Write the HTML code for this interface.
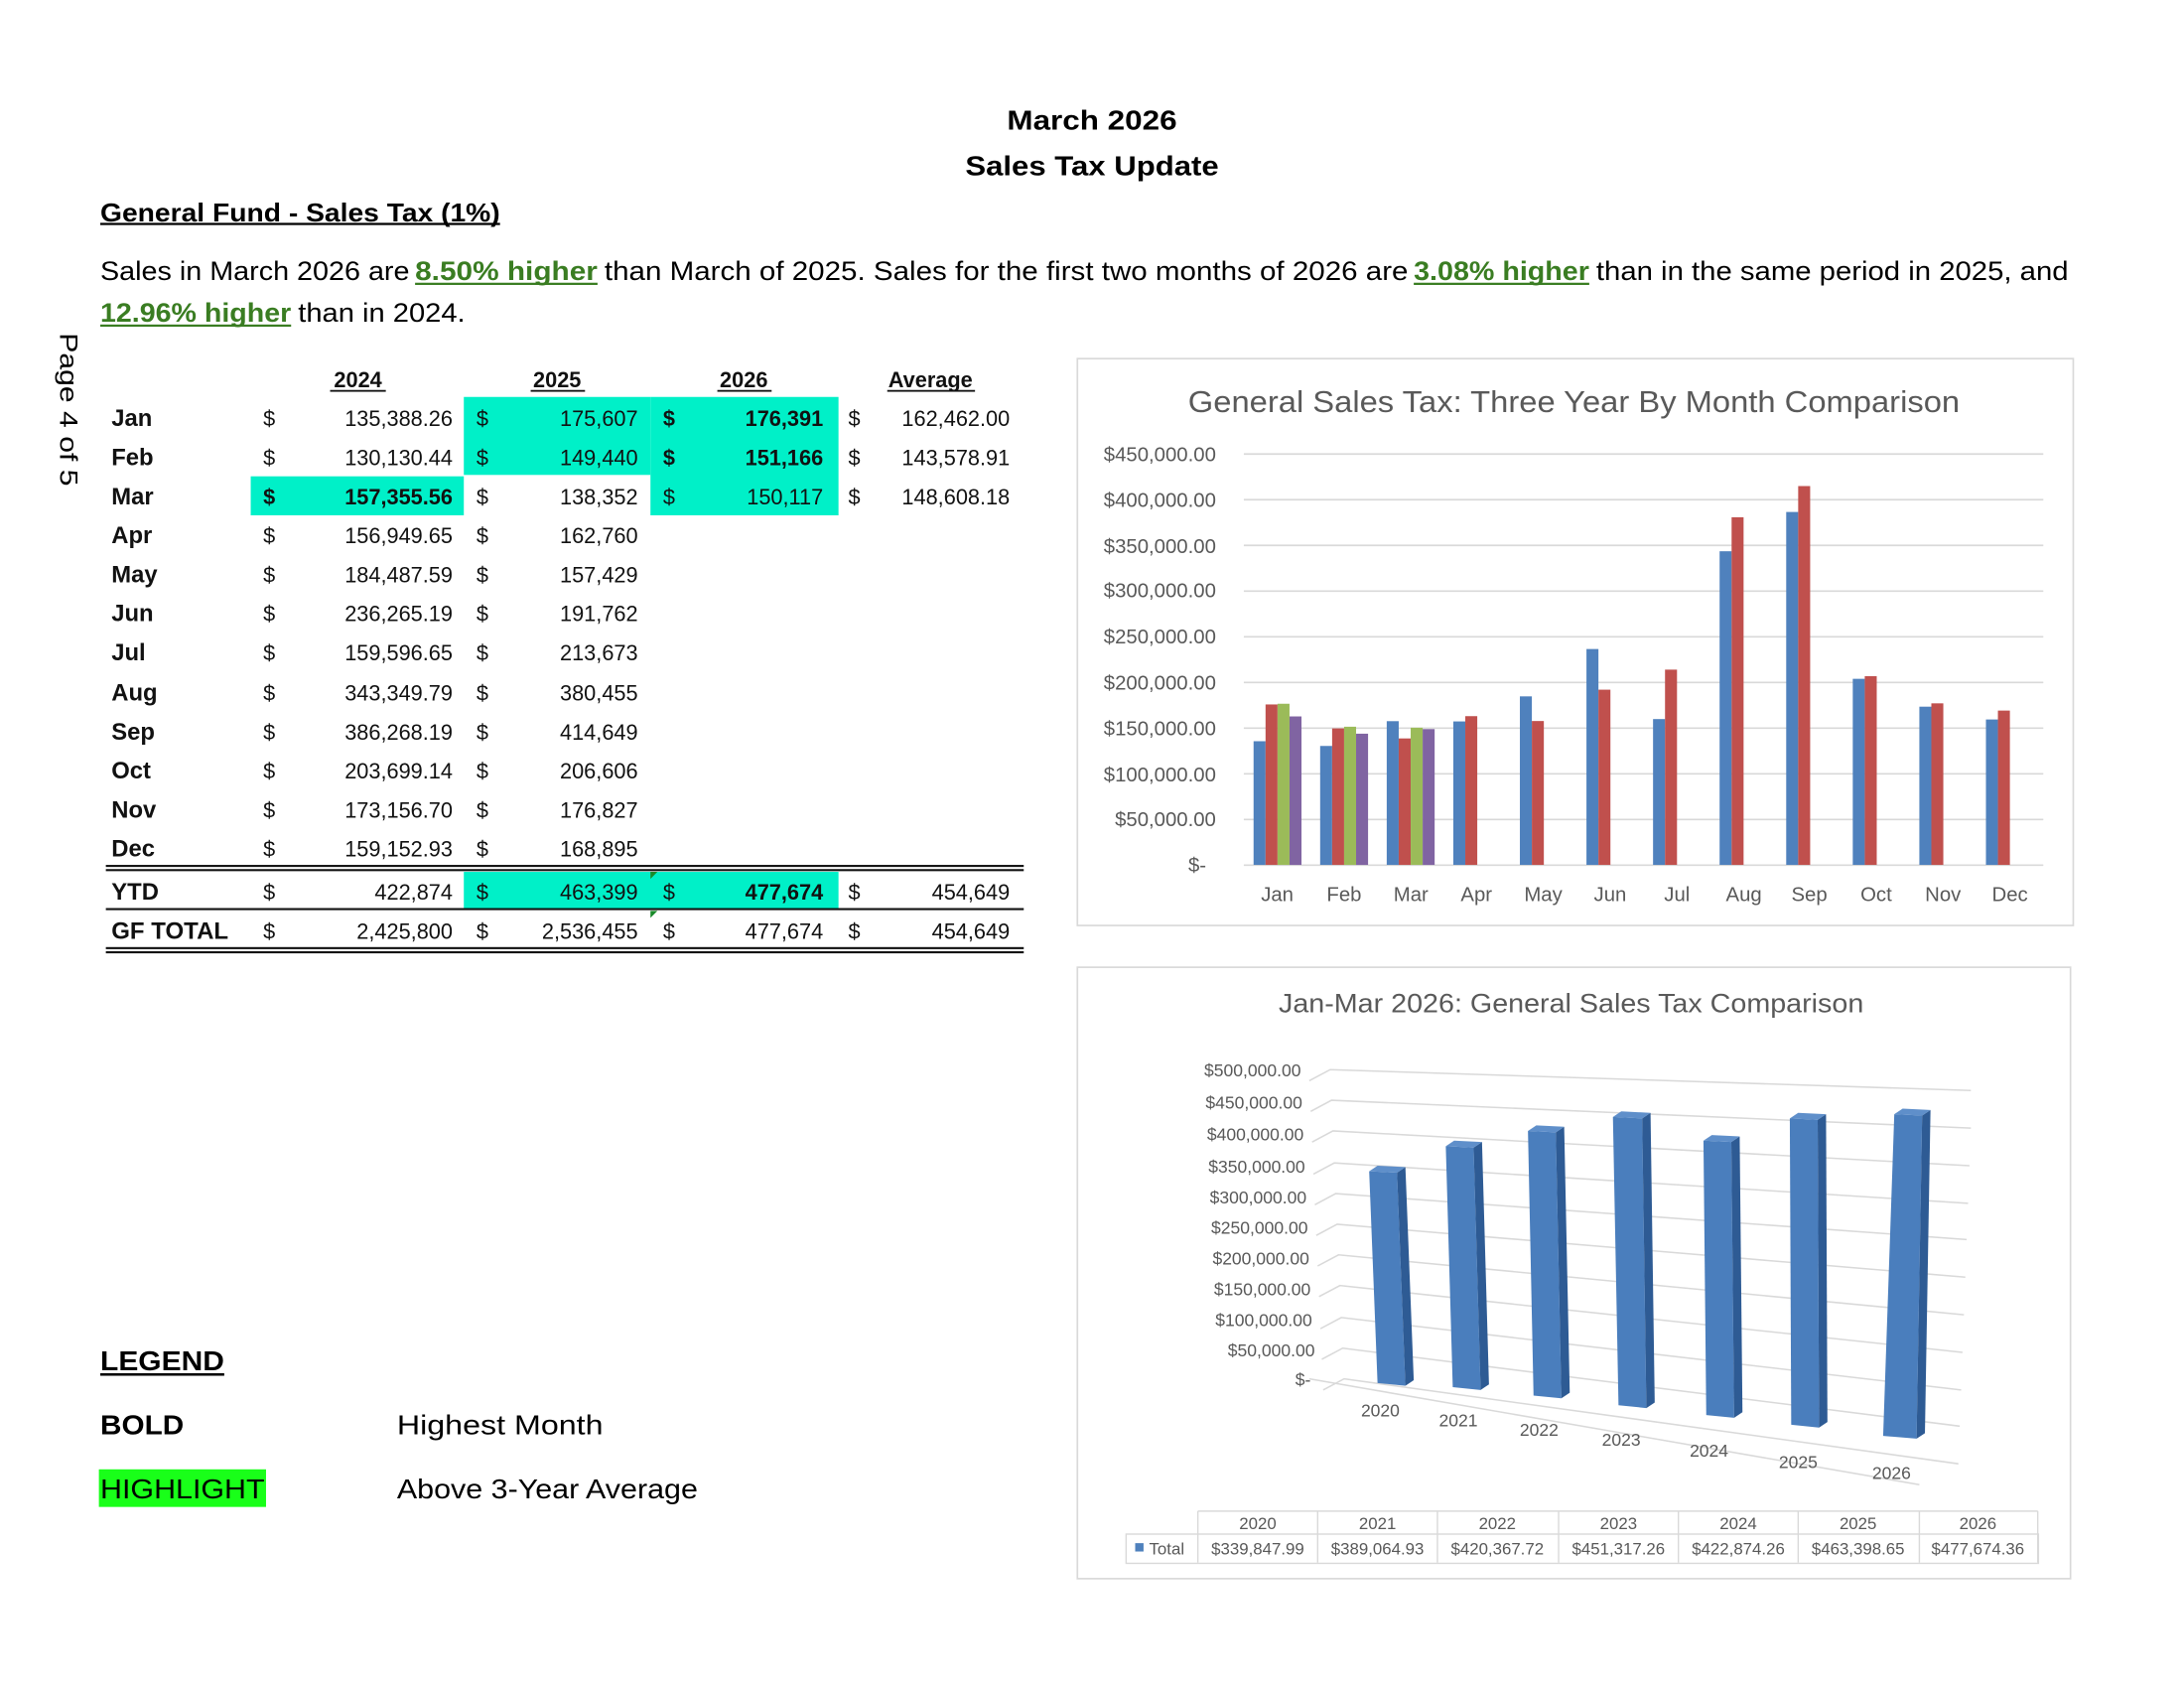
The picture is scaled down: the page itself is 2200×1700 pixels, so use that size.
<!DOCTYPE html>
<html><head><meta charset="utf-8"><style>
html,body{margin:0;padding:0;background:#fff;overflow:hidden;}
svg{display:block;}
text{font-family:"Liberation Sans",sans-serif;}
.t{font-size:15.5px;fill:#111;}
.b{font-weight:bold;}
.m{font-size:17px;font-weight:bold;fill:#111;}
.ax{font-size:14.5px;fill:#595959;}
.ax2{font-size:12.5px;fill:#595959;}
.dt{font-size:12px;fill:#595959;}
</style></head><body>
<svg width="2200" height="1700" viewBox="0 0 1568 1212" preserveAspectRatio="none" xmlns="http://www.w3.org/2000/svg">
<rect width="1568" height="1212" fill="#fff"/>
<!-- header -->
<text x="784" y="93" text-anchor="middle" font-size="20" font-weight="bold" textLength="122" lengthAdjust="spacingAndGlyphs">March 2026</text>
<text x="784" y="126" text-anchor="middle" font-size="20" font-weight="bold" textLength="182" lengthAdjust="spacingAndGlyphs">Sales Tax Update</text>
<text x="72" y="159" font-size="18.5" font-weight="bold" textLength="287" lengthAdjust="spacingAndGlyphs">General Fund - Sales Tax (1%)</text>
<rect x="72" y="160" width="287" height="1.6" fill="#000"/>
<g font-size="19">
<text x="72" y="201" textLength="222" lengthAdjust="spacingAndGlyphs">Sales in March 2026 are</text>
<text x="298" y="201" fill="#3a7d22" font-weight="bold" textLength="131" lengthAdjust="spacingAndGlyphs">8.50%  higher</text>
<rect x="298" y="203" width="131" height="1.6" fill="#3a7d22"/>
<text x="434" y="201" textLength="577" lengthAdjust="spacingAndGlyphs">than March of 2025.  Sales for the first two months of 2026 are</text>
<text x="1015" y="201" fill="#3a7d22" font-weight="bold" textLength="126" lengthAdjust="spacingAndGlyphs">3.08% higher</text>
<rect x="1015" y="203" width="126" height="1.6" fill="#3a7d22"/>
<text x="1146" y="201" textLength="339" lengthAdjust="spacingAndGlyphs">than in the same period in 2025, and</text>
<text x="72" y="231" fill="#3a7d22" font-weight="bold" textLength="137" lengthAdjust="spacingAndGlyphs">12.96% higher</text>
<rect x="72" y="233" width="137" height="1.6" fill="#3a7d22"/>
<text x="214" y="231" textLength="120" lengthAdjust="spacingAndGlyphs">than in 2024.</text>
</g>
<text transform="translate(43,239) rotate(90)" font-size="18" textLength="110" lengthAdjust="spacingAndGlyphs">Page 4 of 5</text>

<!-- table highlights -->
<g fill="#00f0c8">
<rect x="333" y="285" width="134" height="56"/>
<rect x="467" y="285" width="135" height="85"/>
<rect x="180" y="342" width="153" height="28"/>
<rect x="333" y="626" width="269" height="27"/>
</g>
<g class="t b" font-size="15">
<text x="257" y="278" text-anchor="middle">2024</text>
<text x="400" y="278" text-anchor="middle">2025</text>
<text x="534" y="278" text-anchor="middle">2026</text>
<text x="668" y="278" text-anchor="middle">Average</text>
</g>
<g fill="#111"><rect x="237" y="280" width="40" height="1.3"/><rect x="381" y="280" width="39" height="1.3"/><rect x="515" y="280" width="39" height="1.3"/><rect x="637" y="280" width="63" height="1.3"/></g>

<g class="m">
<text x="80" y="306">Jan</text><text x="80" y="334">Feb</text><text x="80" y="362">Mar</text>
<text x="80" y="390">Apr</text><text x="80" y="418">May</text><text x="80" y="446">Jun</text>
<text x="80" y="474">Jul</text><text x="80" y="503">Aug</text><text x="80" y="531">Sep</text>
<text x="80" y="559">Oct</text><text x="80" y="587">Nov</text><text x="80" y="615">Dec</text>
<text x="80" y="646">YTD</text><text x="80" y="674" textLength="84" lengthAdjust="spacingAndGlyphs">GF TOTAL</text>
</g>
<g class="t">
<text x="189" y="306">$</text><text x="189" y="334">$</text><text x="189" y="362" font-weight="bold">$</text>
<text x="189" y="390">$</text><text x="189" y="418">$</text><text x="189" y="446">$</text><text x="189" y="474">$</text>
<text x="189" y="503">$</text><text x="189" y="531">$</text><text x="189" y="559">$</text><text x="189" y="587">$</text><text x="189" y="615">$</text>
<text x="189" y="646">$</text><text x="189" y="674">$</text>
<text x="342" y="306">$</text><text x="342" y="334">$</text><text x="342" y="362">$</text>
<text x="342" y="390">$</text><text x="342" y="418">$</text><text x="342" y="446">$</text><text x="342" y="474">$</text>
<text x="342" y="503">$</text><text x="342" y="531">$</text><text x="342" y="559">$</text><text x="342" y="587">$</text><text x="342" y="615">$</text>
<text x="342" y="646">$</text><text x="342" y="674">$</text>
<text x="476" y="306" font-weight="bold">$</text><text x="476" y="334" font-weight="bold">$</text><text x="476" y="362">$</text>
<text x="476" y="646">$</text><text x="476" y="674">$</text>
<text x="609" y="306">$</text><text x="609" y="334">$</text><text x="609" y="362">$</text>
<text x="609" y="646">$</text><text x="609" y="674">$</text>
</g>
<g class="t" text-anchor="end">
<text x="325" y="306">135,388.26</text><text x="325" y="334">130,130.44</text><text x="325" y="362" font-weight="bold">157,355.56</text>
<text x="325" y="390">156,949.65</text><text x="325" y="418">184,487.59</text><text x="325" y="446">236,265.19</text>
<text x="325" y="474">159,596.65</text><text x="325" y="503">343,349.79</text><text x="325" y="531">386,268.19</text>
<text x="325" y="559">203,699.14</text><text x="325" y="587">173,156.70</text><text x="325" y="615">159,152.93</text>
<text x="325" y="646">422,874</text><text x="325" y="674">2,425,800</text>
<text x="458" y="306">175,607</text><text x="458" y="334">149,440</text><text x="458" y="362">138,352</text>
<text x="458" y="390">162,760</text><text x="458" y="418">157,429</text><text x="458" y="446">191,762</text>
<text x="458" y="474">213,673</text><text x="458" y="503">380,455</text><text x="458" y="531">414,649</text>
<text x="458" y="559">206,606</text><text x="458" y="587">176,827</text><text x="458" y="615">168,895</text>
<text x="458" y="646">463,399</text><text x="458" y="674">2,536,455</text>
<text x="591" y="306" font-weight="bold">176,391</text><text x="591" y="334" font-weight="bold">151,166</text><text x="591" y="362">150,117</text>
<text x="591" y="646" font-weight="bold">477,674</text><text x="591" y="674">477,674</text>
<text x="725" y="306">162,462.00</text><text x="725" y="334">143,578.91</text><text x="725" y="362">148,608.18</text>
<text x="725" y="646">454,649</text><text x="725" y="674">454,649</text>
</g>
<g fill="#111">
<rect x="76" y="621" width="659" height="1.5"/><rect x="76" y="624" width="659" height="1.5"/>
<rect x="76" y="652" width="659" height="1.5"/>
<rect x="76" y="680" width="659" height="1.5"/><rect x="76" y="683" width="659" height="1.5"/>
</g>
<g fill="#1a8a2a"><polygon points="467,626 472,626 467,631"/><polygon points="467,654 472,654 467,659"/></g>

<!-- legend -->
<text x="72" y="984" font-size="20" font-weight="bold" textLength="89" lengthAdjust="spacingAndGlyphs">LEGEND</text>
<rect x="72" y="986" width="89" height="1.8" fill="#000"/>
<text x="72" y="1030" font-size="20" font-weight="bold" textLength="60" lengthAdjust="spacingAndGlyphs">BOLD</text>
<text x="285" y="1030" font-size="20" textLength="148" lengthAdjust="spacingAndGlyphs">Highest Month</text>
<rect x="71" y="1055" width="120" height="27" fill="#19ff19"/>
<text x="72" y="1076" font-size="20" textLength="118" lengthAdjust="spacingAndGlyphs">HIGHLIGHT</text>
<text x="285" y="1076" font-size="20" textLength="216" lengthAdjust="spacingAndGlyphs">Above 3-Year Average</text>

<!-- chart 1 -->
<rect x="773.5" y="257.5" width="715" height="407" fill="#fff" stroke="#d9d9d9" stroke-width="1.2"/>
<text x="1130" y="296" text-anchor="middle" font-size="22" fill="#595959" textLength="554" lengthAdjust="spacingAndGlyphs">General Sales Tax: Three Year By Month Comparison</text>
<g stroke="#d9d9d9" stroke-width="1.2">
<line x1="893" y1="326" x2="1467" y2="326"/><line x1="893" y1="358.8" x2="1467" y2="358.8"/>
<line x1="893" y1="391.6" x2="1467" y2="391.6"/><line x1="893" y1="424.4" x2="1467" y2="424.4"/>
<line x1="893" y1="457.2" x2="1467" y2="457.2"/><line x1="893" y1="490" x2="1467" y2="490"/>
<line x1="893" y1="522.8" x2="1467" y2="522.8"/><line x1="893" y1="555.6" x2="1467" y2="555.6"/>
<line x1="893" y1="588.4" x2="1467" y2="588.4"/><line x1="893" y1="621.2" x2="1467" y2="621.2"/>
</g>
<g class="ax" text-anchor="end">
<text x="873" y="331">$450,000.00</text><text x="873" y="364">$400,000.00</text><text x="873" y="397">$350,000.00</text>
<text x="873" y="429">$300,000.00</text><text x="873" y="462">$250,000.00</text><text x="873" y="495">$200,000.00</text>
<text x="873" y="528">$150,000.00</text><text x="873" y="561">$100,000.00</text><text x="873" y="593">$50,000.00</text>
<text x="866" y="626">$-</text>
</g>
<g class="ax" text-anchor="middle">
<text x="917" y="647">Jan</text><text x="965" y="647">Feb</text><text x="1013" y="647">Mar</text><text x="1060" y="647">Apr</text>
<text x="1108" y="647">May</text><text x="1156" y="647">Jun</text><text x="1204" y="647">Jul</text><text x="1252" y="647">Aug</text>
<text x="1299" y="647">Sep</text><text x="1347" y="647">Oct</text><text x="1395" y="647">Nov</text><text x="1443" y="647">Dec</text>
</g>
<g fill="#4f81bd">
<rect x="900" y="532.2" width="8.6" height="88.8"/><rect x="947.8" y="535.6" width="8.6" height="85.4"/>
<rect x="995.6" y="517.8" width="8.6" height="103.2"/><rect x="1043.4" y="518" width="8.6" height="103"/>
<rect x="1091.2" y="500" width="8.6" height="121"/><rect x="1139" y="466" width="8.6" height="155"/>
<rect x="1186.8" y="516.3" width="8.6" height="104.7"/><rect x="1234.6" y="395.8" width="8.6" height="225.2"/>
<rect x="1282.4" y="367.6" width="8.6" height="253.4"/><rect x="1330.2" y="487.4" width="8.6" height="133.6"/>
<rect x="1378" y="507.4" width="8.6" height="113.6"/><rect x="1425.8" y="516.6" width="8.6" height="104.4"/>
</g>
<g fill="#c0504d">
<rect x="908.6" y="505.8" width="8.6" height="115.2"/><rect x="956.4" y="523" width="8.6" height="98"/>
<rect x="1004.2" y="530.2" width="8.6" height="90.8"/><rect x="1052" y="514.2" width="8.6" height="106.8"/>
<rect x="1099.8" y="517.7" width="8.6" height="103.3"/><rect x="1147.6" y="495.2" width="8.6" height="125.8"/>
<rect x="1195.4" y="480.8" width="8.6" height="140.2"/><rect x="1243.2" y="371.4" width="8.6" height="249.6"/>
<rect x="1291" y="349" width="8.6" height="272"/><rect x="1338.8" y="485.5" width="8.6" height="135.5"/>
<rect x="1386.6" y="505" width="8.6" height="116"/><rect x="1434.4" y="510.2" width="8.6" height="110.8"/>
</g>
<g fill="#9bbb59">
<rect x="917.2" y="505.3" width="8.6" height="115.7"/><rect x="965" y="521.8" width="8.6" height="99.2"/>
<rect x="1012.8" y="522.5" width="8.6" height="98.5"/>
</g>
<g fill="#8064a2">
<rect x="925.8" y="514.4" width="8.6" height="106.6"/><rect x="973.6" y="526.8" width="8.6" height="94.2"/>
<rect x="1021.4" y="523.5" width="8.6" height="97.5"/>
</g>

<!-- chart 2 -->
<rect x="773.5" y="694.5" width="713" height="439" fill="#fff" stroke="#d9d9d9" stroke-width="1.2"/>
<text x="1128" y="727" text-anchor="middle" font-size="19" fill="#595959" textLength="420" lengthAdjust="spacingAndGlyphs">Jan-Mar 2026: General Sales Tax Comparison</text>
<g stroke="#d9d9d9" stroke-width="1.1" fill="none">
<polyline points="940,776 955,768 1415,783"/><polyline points="941,798 956,790 1415,810"/>
<polyline points="942,820 957,812 1414,837"/><polyline points="943,843 958,835 1413,864"/>
<polyline points="944,865 959,857 1412,890"/><polyline points="945,887 960,879 1411,917"/>
<polyline points="946,909 961,901 1410,944"/><polyline points="947,931 962,923 1409,971"/>
<polyline points="948,954 963,946 1408,998"/><polyline points="949,976 964,968 1407,1024"/>
<polyline points="950,998 965,990 1406,1051"/>
<polyline points="940,990 1378,1066"/>
</g>
<g class="ax2" text-anchor="end">
<text x="934" y="773">$500,000.00</text><text x="935" y="796">$450,000.00</text><text x="936" y="819">$400,000.00</text>
<text x="937" y="842">$350,000.00</text><text x="938" y="864">$300,000.00</text><text x="939" y="886">$250,000.00</text>
<text x="940" y="908">$200,000.00</text><text x="941" y="930">$150,000.00</text><text x="942" y="952">$100,000.00</text>
<text x="944" y="974">$50,000.00</text><text x="941" y="995">$-</text>
</g>
<g class="ax2" text-anchor="middle">
<text x="991" y="1017">2020</text><text x="1047" y="1024">2021</text><text x="1105" y="1031">2022</text>
<text x="1164" y="1038">2023</text><text x="1227" y="1046">2024</text><text x="1291" y="1054">2025</text><text x="1358" y="1062">2026</text>
</g>
<g>
<polygon points="983,841 1003,842 1009,995 989,993" fill="#4a7ebd"/><polygon points="1003,842 1009,838 1015,991 1009,995" fill="#2e5b94"/><polygon points="983,841 989,837 1009,838 1003,842" fill="#5f8fca"/>
<polygon points="1038,823 1058,824 1063,998 1043,996" fill="#4a7ebd"/><polygon points="1058,824 1064,820 1069,994 1063,998" fill="#2e5b94"/><polygon points="1038,823 1044,819 1064,820 1058,824" fill="#5f8fca"/>
<polygon points="1097,812 1117,813 1121,1004 1101,1002" fill="#4a7ebd"/><polygon points="1117,813 1123,809 1127,1000 1121,1004" fill="#2e5b94"/><polygon points="1097,812 1103,808 1123,809 1117,813" fill="#5f8fca"/>
<polygon points="1158,802 1179,803 1182,1011 1162,1009" fill="#4a7ebd"/><polygon points="1179,803 1185,799 1188,1007 1182,1011" fill="#2e5b94"/><polygon points="1158,802 1164,798 1185,799 1179,803" fill="#5f8fca"/>
<polygon points="1223,819 1243,820 1245,1018 1225,1016" fill="#4a7ebd"/><polygon points="1243,820 1249,816 1251,1014 1245,1018" fill="#2e5b94"/><polygon points="1223,819 1229,815 1249,816 1243,820" fill="#5f8fca"/>
<polygon points="1285,803 1305,804 1306,1025 1286,1023" fill="#4a7ebd"/><polygon points="1305,804 1311,800 1312,1021 1306,1025" fill="#2e5b94"/><polygon points="1285,803 1291,799 1311,800 1305,804" fill="#5f8fca"/>
<polygon points="1360,800 1380,801 1376,1033 1352,1031" fill="#4a7ebd"/><polygon points="1380,801 1386,797 1382,1029 1376,1033" fill="#2e5b94"/><polygon points="1360,800 1366,796 1386,797 1380,801" fill="#5f8fca"/>
</g>
<!-- data table -->
<g stroke="#d9d9d9" stroke-width="1" fill="none">
<rect x="808.5" y="1101.5" width="655" height="21"/>
<line x1="860" y1="1085" x2="1463" y2="1085"/><line x1="860" y1="1085" x2="860" y2="1122"/>
<line x1="946" y1="1085" x2="946" y2="1122"/><line x1="1032" y1="1085" x2="1032" y2="1122"/>
<line x1="1119" y1="1085" x2="1119" y2="1122"/><line x1="1205" y1="1085" x2="1205" y2="1122"/>
<line x1="1291" y1="1085" x2="1291" y2="1122"/><line x1="1378" y1="1085" x2="1378" y2="1122"/>
<line x1="1463" y1="1085" x2="1463" y2="1122"/>
</g>
<g class="dt" text-anchor="middle">
<text x="903" y="1098">2020</text><text x="989" y="1098">2021</text><text x="1075" y="1098">2022</text><text x="1162" y="1098">2023</text>
<text x="1248" y="1098">2024</text><text x="1334" y="1098">2025</text><text x="1420" y="1098">2026</text>
<text x="903" y="1116">$339,847.99</text><text x="989" y="1116">$389,064.93</text><text x="1075" y="1116">$420,367.72</text><text x="1162" y="1116">$451,317.26</text>
<text x="1248" y="1116">$422,874.26</text><text x="1334" y="1116">$463,398.65</text><text x="1420" y="1116">$477,674.36</text>
</g>
<rect x="815" y="1108" width="6" height="6" fill="#4f81bd"/>
<text x="825" y="1116" class="dt">Total</text>
</svg>
</body></html>
